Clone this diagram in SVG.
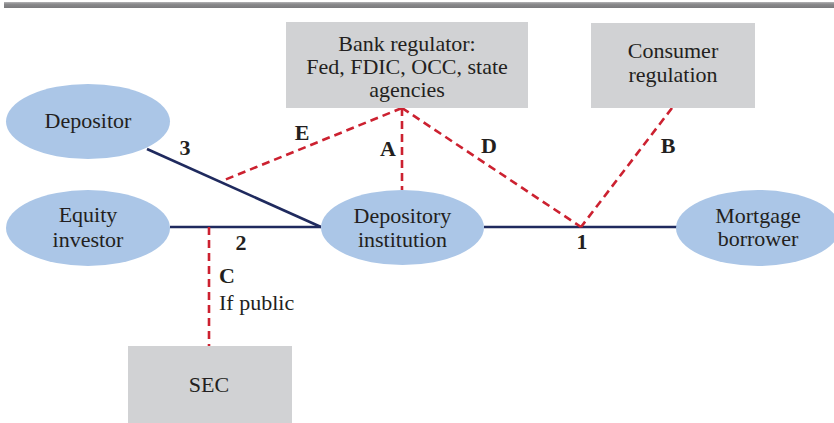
<svg xmlns="http://www.w3.org/2000/svg" width="834" height="423" viewBox="0 0 834 423">
<defs>
<linearGradient id="bar" x1="0" y1="0" x2="0" y2="1">
<stop offset="0" stop-color="#b5b5b7"/>
<stop offset="0.35" stop-color="#8a8a8c"/>
<stop offset="1" stop-color="#7a7a7c"/>
</linearGradient>
</defs>
<style>
.ell{fill:#abc6e7;}
.box{fill:#d1d2d4;}
.t{font-family:"Liberation Serif","Times New Roman",serif;font-size:22px;fill:#231f20;text-anchor:middle;}
.lbl{font-family:"Liberation Serif","Times New Roman",serif;font-size:22px;font-weight:bold;fill:#231f20;text-anchor:middle;}
.solid{stroke:#1f2a5e;stroke-width:2.6;fill:none;}
.dash{stroke:#cc2130;stroke-width:2.6;fill:none;stroke-dasharray:8 5;}
</style>
<rect x="4" y="2" width="830" height="6" fill="url(#bar)"/>

<g id="connectors">
<line class="solid" x1="147" y1="149" x2="321" y2="227"/>
<line class="solid" x1="170" y1="227" x2="321" y2="227"/>
<line class="solid" x1="484" y1="227" x2="677" y2="227"/>
<line class="dash" x1="402" y1="108" x2="402" y2="190"/>
<line class="dash" x1="402" y1="108" x2="222" y2="181"/>
<line class="dash" x1="402" y1="108" x2="581" y2="227"/>
<line class="dash" x1="672" y1="108" x2="581" y2="227"/>
<line class="dash" x1="209" y1="227" x2="209" y2="346"/>
<text class="lbl" x="185" y="155">3</text>
<text class="lbl" x="302" y="140">E</text>
<text class="lbl" x="388" y="156">A</text>
<text class="lbl" x="489" y="153">D</text>
<text class="lbl" x="668" y="153">B</text>
<text class="lbl" x="582" y="249">1</text>
<text class="lbl" x="241" y="250">2</text>
<text class="lbl" x="219" y="283" style="text-anchor:start">C</text>
<text class="t" x="219" y="310" style="text-anchor:start">If public</text>
</g>

<g id="bank-regulator">
<rect class="box" x="286" y="22" width="242" height="86"/>
<text class="t" x="407" y="51">Bank regulator:</text>
<text class="t" x="407" y="74">Fed, FDIC, OCC, state</text>
<text class="t" x="407" y="97">agencies</text>
</g>
<g id="consumer-regulation">
<rect class="box" x="591" y="23" width="164" height="85"/>
<text class="t" x="673" y="58">Consumer</text>
<text class="t" x="673" y="82">regulation</text>
</g>
<g id="depositor">
<ellipse class="ell" cx="88" cy="121.5" rx="82" ry="37.5"/>
<text class="t" x="88" y="128">Depositor</text>
</g>
<g id="equity-investor">
<ellipse class="ell" cx="88" cy="228" rx="82" ry="38"/>
<text class="t" x="88" y="222">Equity</text>
<text class="t" x="88" y="247">investor</text>
</g>
<g id="depository-institution">
<ellipse class="ell" cx="402.5" cy="227.5" rx="81.5" ry="37.5"/>
<text class="t" x="402.5" y="223">Depository</text>
<text class="t" x="402.5" y="247">institution</text>
</g>
<g id="mortgage-borrower">
<ellipse class="ell" cx="758" cy="228" rx="82" ry="38"/>
<text class="t" x="758" y="223">Mortgage</text>
<text class="t" x="758" y="246">borrower</text>
</g>
<g id="sec">
<rect class="box" x="128" y="346" width="164" height="77"/>
<text class="t" x="209" y="392">SEC</text>
</g>
</svg>
